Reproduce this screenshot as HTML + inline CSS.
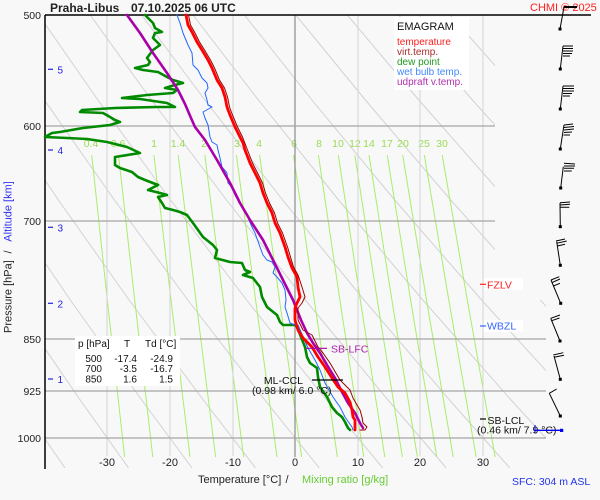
<!DOCTYPE html>
<html><head><meta charset="utf-8"><style>
html,body{margin:0;padding:0;background:#f8f8f8;}
svg{display:block;font-family:"Liberation Sans",Arial,sans-serif;}
</style></head><body>
<svg width="600" height="500" viewBox="0 0 600 500" xmlns="http://www.w3.org/2000/svg">
<defs>
<clipPath id="pc"><polygon points="45,15 495,15 495,300 546,300 546,468 45,468"/></clipPath>
</defs>
<rect width="600" height="500" fill="#f8f8f8"/>

<!-- dry adiabats -->
<g clip-path="url(#pc)" fill="none" stroke="#d2d2d2" stroke-width="1">
<polyline points="-200,400 18.6,400 45.7,440 65,468"/>
<polyline points="-166.8,15 -116.1,100 -53.8,200 11.6,300 80.2,400 128.6,468"/>
<polyline points="-115.4,15 -62.6,100 2.3,200 70.3,300 141.7,400 192.1,468"/>
<polyline points="-64,15 -9.1,100 58.4,200 129.1,300 203.3,400 255.6,468"/>
<polyline points="-12.6,15 44.4,100 114.4,200 187.8,300 264.9,400 319.3,468"/>
<polyline points="38.8,15 97.9,100 170.5,200 246.6,300 326.5,400 382.8,468"/>
<polyline points="90.2,15 151.4,100 226.5,200 305.3,300 388,400 446.3,468"/>
<polyline points="141.6,15 204.9,100 282.6,200 364.1,300 449.5,400 509.9,468"/>
<polyline points="193,15 258.4,100 338.6,200 422.8,300 511.1,400 573.4,468"/>
<polyline points="244.4,15 311.9,100 394.7,200 481.6,300 572.7,400"/>
<polyline points="295.8,15 365.4,100 450.7,200 540.3,300 634,400"/>
<polyline points="347.3,15 418.8,100 506.8,200 599,300"/>
<polyline points="398.7,15 472.4,100 562.9,200"/>
<polyline points="450,15 525.9,100 619,200"/>
<polyline points="501.4,15 579.3,100"/>
</g>

<!-- mixing ratio lines -->
<g fill="none" stroke="#a8ee6c" stroke-width="1">
<polyline points="91.7,155 107.3,300 124.6,457"/>
<polyline points="118.5,155 134.7,300 152.8,457"/>
<polyline points="153.9,155 171,300 190,457"/>
<polyline points="178.2,155 195.9,300 215.6,457"/>
<polyline points="204.8,155 223.3,300 243.7,457"/>
<polyline points="236.4,155 255.6,300 277,457"/>
<polyline points="259.6,155 279.5,300 301.6,457"/>
<polyline points="293.5,155 314.3,300 337.4,457"/>
<polyline points="318.4,155 339.9,300 363.8,457"/>
<polyline points="338.3,155 360.3,300 384.8,457"/>
<polyline points="354.8,155 377.3,300 402.4,457"/>
<polyline points="369,155 391.9,300 417.4,457"/>
<polyline points="387.2,155 410.6,300 436.8,457"/>
<polyline points="402.7,155 426.5,300 453.2,457"/>
<polyline points="424.3,155 448.8,300 476.2,457"/>
<polyline points="442.2,155 467.3,300 495.2,457"/>
</g>
<g font-size="10.5" fill="#99dd55" text-anchor="middle">
<text x="91" y="147">0.4</text><text x="118" y="147">0.6</text><text x="154" y="147">1</text>
<text x="178" y="147">1.4</text><text x="204" y="147">2</text><text x="237" y="147">3</text>
<text x="259" y="147">4</text><text x="294" y="147">6</text><text x="319" y="147">8</text>
<text x="338" y="147">10</text><text x="355" y="147">12</text><text x="369" y="147">14</text>
<text x="387" y="147">17</text><text x="403" y="147">20</text><text x="424" y="147">25</text>
<text x="442" y="147">30</text>
</g>

<!-- isotherms -->
<g stroke="#d4d4d4" stroke-width="1">
<line x1="107" y1="15" x2="107" y2="456"/><line x1="170" y1="15" x2="170" y2="456"/>
<line x1="233" y1="15" x2="233" y2="456"/><line x1="358" y1="15" x2="358" y2="456"/>
<line x1="420" y1="15" x2="420" y2="456"/><line x1="483" y1="15" x2="483" y2="456"/>
</g>
<line x1="295" y1="15" x2="295" y2="457" stroke="#8c8c8c" stroke-width="1.2"/>

<!-- isobars -->
<g stroke="#a4a4a4" stroke-width="1.3">
<line x1="45" y1="126" x2="495" y2="126"/><line x1="45" y1="221" x2="495" y2="221"/>
<line x1="45" y1="339" x2="546" y2="339"/><line x1="45" y1="391" x2="546" y2="391"/>
<line x1="45" y1="438" x2="546" y2="438"/>
</g>

<!-- axes -->
<line x1="45" y1="15" x2="591" y2="15" stroke="#000" stroke-width="1.5"/>
<line x1="45" y1="15" x2="45" y2="469" stroke="#000" stroke-width="1.5"/>

<!-- title -->
<text x="50" y="12" font-size="12" font-weight="bold" fill="#222">Praha-Libus</text>
<text x="131" y="12" font-size="12" font-weight="bold" fill="#222">07.10.2025 06 UTC</text>
<text x="530" y="11" font-size="11" fill="#ff2020">CHMI © 2025</text>

<!-- pressure labels -->
<g font-size="10.5" fill="#222" text-anchor="end">
<text x="41" y="19">500</text><text x="41" y="130">600</text><text x="41" y="225">700</text>
<text x="41" y="343">850</text><text x="41" y="395">925</text><text x="41" y="442">1000</text>
</g>
<!-- altitude -->
<g stroke="#2222dd" stroke-width="1.2">
<line x1="48" y1="69.3" x2="53" y2="69.3"/><line x1="48" y1="150" x2="53" y2="150"/>
<line x1="48" y1="227.3" x2="53" y2="227.3"/><line x1="48" y1="303.3" x2="53" y2="303.3"/>
<line x1="48" y1="379" x2="53" y2="379"/>
</g>
<g font-size="10" fill="#2222dd">
<text x="57.5" y="73.5">5</text><text x="57.5" y="154">4</text><text x="57.5" y="231.5">3</text>
<text x="57.5" y="307.5">2</text><text x="57.5" y="383">1</text>
</g>
<!-- y title -->
<g transform="translate(11.5,333) rotate(-90)" font-size="11">
<text x="0" y="0" fill="#222">Pressure [hPa]</text>
<text x="81" y="0" fill="#222" text-anchor="middle">/</text>
<text x="91.3" y="0" fill="#3333ee">Altitude [km]</text>
</g>

<!-- x labels -->
<g font-size="11" fill="#222" text-anchor="middle">
<text x="107" y="466">-30</text><text x="170" y="466">-20</text><text x="233" y="466">-10</text>
<text x="295" y="466">0</text><text x="358" y="466">10</text><text x="420" y="466">20</text><text x="483" y="466">30</text>
</g>
<text x="198" y="483" font-size="11" fill="#222">Temperature [°C]</text>
<text x="287" y="483" font-size="11" fill="#222" text-anchor="middle">/</text>
<text x="302" y="483" font-size="11" fill="#66cc33">Mixing ratio [g/kg]</text>
<text x="512" y="485" font-size="10.5" fill="#2233ee">SFC: 304 m ASL</text>

<!-- legend -->
<rect x="394" y="17" width="75" height="73" fill="#ffffff"/>
<text x="397" y="30" font-size="11" fill="#111">EMAGRAM</text>
<g font-size="10">
<text x="397" y="45" fill="#ff2020">temperature</text>
<text x="397" y="55" fill="#aa2a2a">virt.temp.</text>
<text x="397" y="65" fill="#229922">dew point</text>
<text x="397" y="75" fill="#4488ff">wet bulb temp.</text>
<text x="397" y="85" fill="#b030b0">udpraft v.temp.</text>
</g>

<!-- table -->
<rect x="75" y="336" width="105" height="50" fill="#ffffff"/>
<g font-size="10" fill="#111">
<text x="78" y="347">p [hPa]</text><text x="127" y="347" text-anchor="middle">T</text><text x="145" y="347">Td [°C]</text>
<g text-anchor="end">
<text x="102" y="362">500</text><text x="137" y="362">-17.4</text><text x="173" y="362">-24.9</text>
<text x="102" y="372">700</text><text x="137" y="372">-3.5</text><text x="173" y="372">-16.7</text>
<text x="102" y="382.5">850</text><text x="137" y="382.5">1.6</text><text x="173" y="382.5">1.5</text>
</g>
</g>

<!-- level labels -->
<rect x="484" y="278" width="39" height="12" fill="#ffffff"/>
<line x1="480" y1="284.3" x2="486" y2="284.3" stroke="#ff2020" stroke-width="1.2"/>
<text x="487" y="288.5" font-size="10.5" fill="#ff2020">FZLV</text>
<rect x="484" y="320" width="39" height="12" fill="#ffffff"/>
<line x1="480" y1="326" x2="486" y2="326" stroke="#3366ff" stroke-width="1.2"/>
<text x="487" y="329.5" font-size="10.5" fill="#3366ff">WBZL</text>

<!-- curves -->
<g fill="none" stroke-linejoin="round" stroke-linecap="round">
<polyline stroke="#008a00" stroke-width="2.6" points="145,15 148,18 153,23 155,28 162,32 155,33 153,38 160,45 153,50 147,58 150,62 148,65 135,68 143,70 158,72 167,77 173,80 183,83 175,85 165,88 177,90 173,93 147,95 122,98 140,99 167,103 175,107 157,107 115,108 82,110 80,112 103,113 110,117 115,120 120,122 110,125 83,128 60,132 52,133 45,137 67,138 87,139 107,142 127,147 140,153 115,157 115,165 120,168 132,172 138,177 145,180 158,185 148,190 160,193 167,195 158,197 162,203 165,208 173,210 180,212 187,215 193,223 203,237 213,245 217,250 215,258 230,262 242,263 245,270 250,272 243,275 253,278 260,287 262,297 267,307 277,315 280,322 283,325 295,325 297,327 305,347 307,357 310,363 317,368 318,377 320,387 327,397 332,407 337,413 342,417 345,422 348,428 350,430"/>
<polyline stroke="#2266ff" stroke-width="1" points="177,15 180,23 183,33 188,45 192,53 193,65 198,70 202,78 207,83 208,88 205,93 207,100 208,105 212,107 203,112 205,118 208,125 210,137 212,142 217,145 218,150 220,158 222,167 227,173 228,183 232,187 235,195 240,203 246,213 252,227 255,233 260,247 263,255 267,260 272,262 275,267 273,273 277,277 282,283 285,290 286,300 285,307 287,313 290,323 295,325 298,325 308,348 315,360 320,370 325,383 333,397 340,407 345,417 352,427 353,430"/>
<polyline stroke="#aa00aa" stroke-width="2.6" points="127,15 140,33 153,53 167,73 178,90 185,104 191,118 195,127 205,140 217,160 230,183 240,203 250,220 263,240 273,260 283,280 293,300 301,320 307,333 313,343 320,353 327,365 335,378 342,392 348,403 355,413 360,423 363,428"/>
<polyline stroke="#ff0000" stroke-width="2.8" points="186,15 188,25 192,32 197,42 202,50 208,60 212,68 217,80 222,88 225,97 227,107 230,115 235,127 240,137 243,143 245,150 250,163 255,173 260,183 263,193 267,203 272,213 275,223 280,233 285,247 288,257 292,268 297,277 298,287 300,297 297,303 295,308 295,320 298,330 303,338 312,347 318,357 325,367 332,378 338,387 345,393 350,402 352,410 353,417 355,420 355,430"/>
<polyline stroke="#990000" stroke-width="1" points="188.5,15 190.5,25 194.5,32 199.5,42 204.5,50 210.5,60 214.5,68 219.5,80 224.5,88 227.5,97 229.5,107 232.5,115 237.5,127 242.5,137 247.5,150 252.5,163 257.5,173 262.5,183 265.5,193 269.5,203 274.5,213 277.5,223 282.5,233 287.5,247 290.5,257 293.5,267 298,275 302,287 305,297 302,303 298,308 298,320 303,330 312,335 318,347 323,353 330,363 340,380 350,390 353,398 357,405 360,410 362,417 363,423 367,427 365,430 360,430"/>
</g>

<!-- annotations -->
<line x1="306" y1="348.3" x2="327" y2="348.3" stroke="#aa00aa" stroke-width="1.2"/>
<text x="331" y="352.7" font-size="10.5" fill="#aa22aa">SB-LFC</text>
<line x1="312" y1="380" x2="343" y2="380" stroke="#000" stroke-width="1.2"/>
<text x="303" y="384" font-size="10.5" fill="#111" text-anchor="end">ML-CCL</text>
<text x="252" y="394" font-size="10.5" fill="#111">(0.98 km/ 6.0 °C)</text>
<line x1="480" y1="419" x2="486" y2="419" stroke="#000" stroke-width="1.2"/>
<text x="487.5" y="424" font-size="10.5" fill="#111">SB-LCL</text>
<text x="477" y="433.5" font-size="10.5" fill="#111">(0.46 km/ 7.9 °C)</text>
<line x1="535" y1="430.3" x2="561.5" y2="430.3" stroke="#0000ee" stroke-width="1.3"/>
<line x1="535" y1="425" x2="535" y2="433" stroke="#0000ee" stroke-width="1"/>
<rect x="560" y="428.8" width="3.2" height="3.2" fill="#0000ee"/>

<!-- wind barbs -->
<g stroke="#000" stroke-width="1" fill="none">
<path d="M560,29 L564,7"/><path d="M564,7 L577,7" stroke-width="2"/>
<path d="M560.3,69 L563,46 M563,46 L573,46 M563,48.5 L573,48.5 M563,51 L573,51 M563,53.5 L572,53.5 M563,56 L570,56"/>
<path d="M560.3,109 L563,86 M563,86 L574,86 M563,88.5 L574,88.5 M563,91 L574,91 M563,93.5 L572,93.5 M563,96 L570,96"/>
<path d="M560.3,149 L564,125 M564,125 L573,124 M564,127.5 L574,126.5 M564,130 L574,129 M564,132.5 L572,132 M563.5,135 L570,135"/>
<path d="M560.7,188 L563.3,166.7 M564,163.3 L575,164 M564,166 L575,166 M564,168.3 L574,168.3 M564,171 L571.7,171"/>
<path d="M560.3,226.7 L560,203 M560,202.7 L570,202 M560,205 L570,204.3 M560,207.3 L569.3,207.3"/>
<path d="M560.3,265.3 L556.7,241.7 M556,241 L565,239 M556.7,243.3 L566.7,241 M557.3,246 L565,244.3"/>
<path d="M560.7,303.3 L551,280 M551,280 L559.3,276.7 M551.7,282.7 L560,279 M553.3,286 L560,283.3"/>
<path d="M560,341 L550.7,318.3 M550.7,318.3 L560,315 M551.7,320.7 L559.5,318"/>
<path d="M560.3,379.3 L554,356 M553.3,355 L563.3,352.7 M554,357.3 L564,355.3"/>
<path d="M560.3,416 L549.3,393.3 M549.3,393.3 L556.7,389"/>
</g>
<g fill="#000">
<rect x="558.5" y="27.5" width="3" height="3"/><rect x="558.8" y="67.5" width="3" height="3"/>
<rect x="558.8" y="107.5" width="3" height="3"/><rect x="558.8" y="147.5" width="3" height="3"/>
<rect x="559.2" y="186.5" width="3" height="3"/><rect x="558.8" y="225.2" width="3" height="3"/>
<rect x="558.8" y="263.8" width="3" height="3"/><rect x="559.2" y="301.8" width="3" height="3"/>
<rect x="558.5" y="339.5" width="3" height="3"/><rect x="558.8" y="377.8" width="3" height="3"/>
<rect x="558.8" y="414.5" width="3" height="3"/>
</g>
</svg>
</body></html>
